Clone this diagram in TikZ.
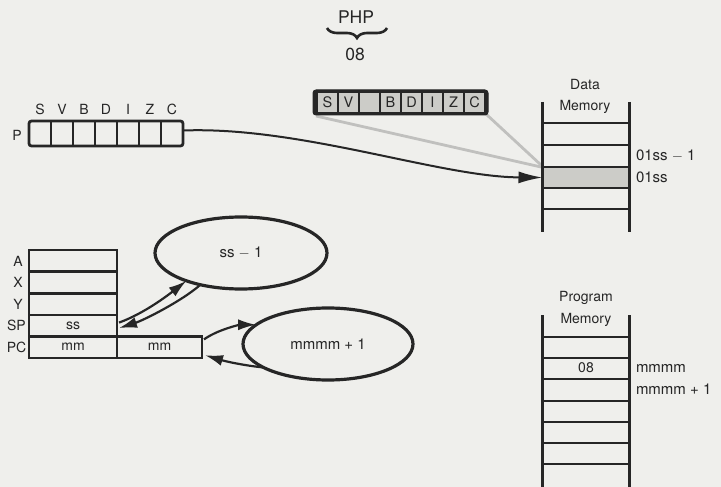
\documentclass[tikz,border=0pt]{standalone}
\usepackage{fontspec}
\setmainfont{TeX Gyre Heros}
\usetikzlibrary{decorations.pathreplacing,arrows.meta,calc,shapes.geometric}
\definecolor{bg}{RGB}{239,239,236}
\definecolor{ink}{RGB}{38,38,38}
\definecolor{shade}{RGB}{204,204,200}
\definecolor{ghost}{RGB}{192,192,190}
\begin{document}
\begin{tikzpicture}[x=1pt,y=-1pt,
  every node/.style={text=ink, inner sep=0pt, outer sep=0pt, font=\fontsize{14}{16}\selectfont},
  regcell/.style={draw=ink, line width=2.6, minimum height=21.6},
  mline/.style={draw=ink, line width=2.2},
  wall/.style={draw=ink, line width=3.4},
  flagcell/.style={fill=shade, minimum width=19, minimum height=19, font=\fontsize{14.5}{16}\selectfont},
  oval/.style={ellipse, draw=ink, line width=3.2, minimum width=172, minimum height=72, font=\fontsize{15}{17}\selectfont},
  link/.style={draw=ink, line width=2.2, -{Latex[length=18,width=11]}},
  ghostline/.style={draw=ghost, line width=2.8},
  sidelbl/.style={anchor=west, font=\fontsize{15}{17}\selectfont},
  reglbl/.style={font=\fontsize{14}{16}\selectfont},
  big/.style={font=\fontsize{17.5}{20}\selectfont},
]
\fill[bg] (0,0) rectangle (721,487);
\useasboundingbox (0,0) rectangle (721,487);

% PHP opcode
\node[big] (php) at (356,17) {PHP};
\draw[ink, line width=2.6, decorate, decoration={brace, amplitude=10}] (387,28) -- (327,28);
\node[big] (opc) at (355,54) {08};

% P register
\node[draw=ink, line width=2.8, rounded corners=2.5, minimum width=154, minimum height=25] (pbox) at (106,133.5) {};
\foreach \i in {1,...,6} \draw[ink, line width=2.2] (29+22*\i,121) -- (29+22*\i,146);
\foreach \l [count=\i] in {S,V,B,D,I,Z,C} \node (pf\i) at (18+22*\i,109) {\l};
\node[reglbl] (plbl) at (17,135) {P};

% saved flags byte
\draw[ghostline] (316,116) -- (541,167);
\draw[ghostline] (486,114) -- (541,165);
\node[fill=ink, draw=ink, line width=1, rounded corners=3, minimum width=175, minimum height=25] (flags) at (400.5,102.5) {};
\foreach \l [count=\i] in {S,V,{},B,D,I,Z,C} \node[flagcell] (fc\i) at (306.5+21*\i,102.5) {\l};

% Data memory
\node (dmt1) at (585,85) {Data};
\node (dmt2) at (585,107) {Memory};
\node[fill=shade, minimum width=87, minimum height=21] (dmhl) at (586,177.5) {};
\draw[wall] (542.5,102) -- (542.5,232);
\draw[wall] (629.5,102) -- (629.5,232);
\foreach \y in {123,145,167,188,209} \draw[mline] (542.5,\y) -- (629.5,\y);
\node[sidelbl] (dmlab1) at (636,156) {01ss $-$ 1};
\node[sidelbl] (dmlab2) at (636,177) {01ss};

% P -> data memory
\draw[draw=ink, line width=2, -{Latex[length=24,width=12]}] ($(pbox.east)+(0,-3)$) .. controls (300,126) and (440,177) .. (dmhl.west);

% Program memory
\node (pmt1) at (586,298) {Program};
\node (pmt2) at (586,320) {Memory};
\draw[wall] (542.5,315) -- (542.5,490);
\draw[wall] (629.5,315) -- (629.5,490);
\foreach \y in {337,358,379,401,422,443,464} \draw[mline] (542.5,\y) -- (629.5,\y);
\node (pm08) at (586,368) {08};
\node[sidelbl] (pmlab1) at (636,368) {mmmm};
\node[sidelbl] (pmlab2) at (636,389) {mmmm + 1};

% Registers
\node[regcell, minimum width=88] (ra) at (73,260.8) {};
\node[regcell, minimum width=88] (rx) at (73,282.4) {};
\node[regcell, minimum width=88] (ry) at (73,304) {};
\node[regcell, minimum width=88] (rsp) at (73,325.6) {ss};
\node[regcell, minimum width=88] (rpc1) at (73,347.2) {mm};
\node[regcell, minimum width=85] (rpc2) at (159.5,347.2) {mm};
\node[reglbl] (la) at (18,261) {A};
\node[reglbl] (lx) at (18,282.5) {X};
\node[reglbl] (ly) at (18,304) {Y};
\node[reglbl] (lsp) at (16.5,325.6) {SP};
\node[reglbl] (lpc) at (16.5,347.2) {PC};

% Ellipses
\node[oval] (ssm) at (241,253) {ss $-$ 1};
\node[oval, minimum width=170] (mmp) at (328,344) {mmmm + 1};

% SP <-> ss-1
\coordinate (spA) at ($(rsp.east)+(2,-3)$);
\coordinate (spB) at ($(rsp.east)+(2,2.5)$);
\draw[link] (spA) .. controls ($(spA)+(25,-9)$) and ($(ssm.207)+(-18,14)$) .. (ssm.207);
\draw[link] (ssm.218) .. controls ($(ssm.218)+(-18,16)$) and ($(spB)+(25,-8)$) .. (spB);

% PC <-> mmmm+1
\coordinate (pcA) at ($(rpc2.north east)+(2,3)$);
\coordinate (pcB) at ($(rpc2.east)+(3,8)$);
\draw[link] (pcA) .. controls ($(pcA)+(14,-10)$) and ($(mmp.165)+(-16,0)$) .. (mmp.165);
\draw[link] (mmp.200) .. controls ($(mmp.200)+(-20,-2)$) and ($(pcB)+(20,6)$) .. (pcB);
\end{tikzpicture}
\end{document}
